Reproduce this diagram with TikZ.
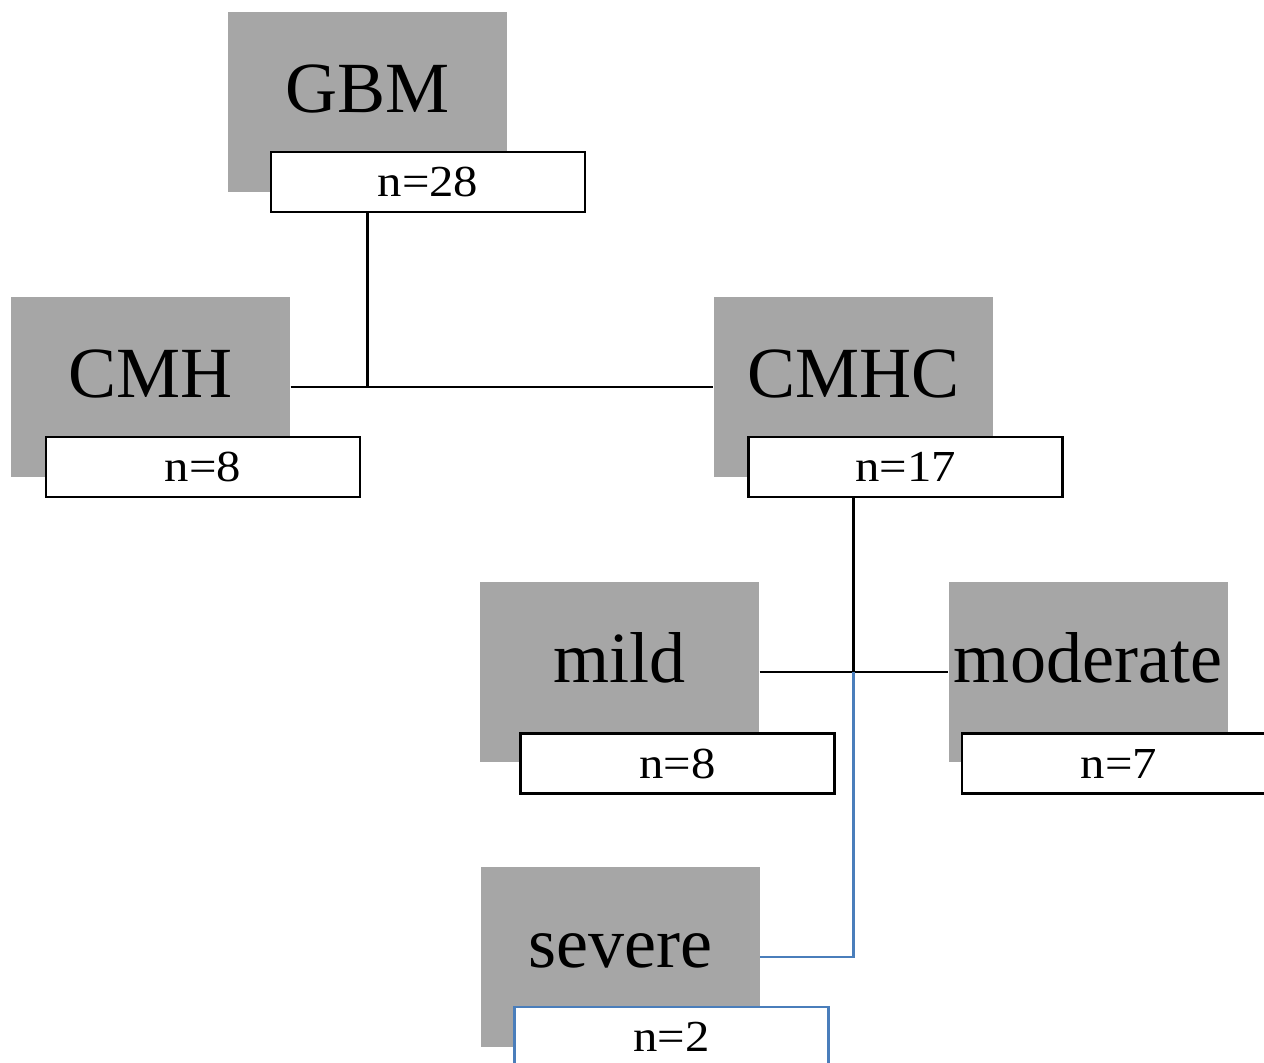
\documentclass[tikz,border=0pt]{standalone}
\usepackage{fontspec}
\setmainfont{Liberation Serif}
\newfontfamily\countfont{Liberation Serif}[FakeStretch=1.1]
\definecolor{boxgray}{HTML}{A6A6A6}
\definecolor{linkblue}{HTML}{4A7EBB}
\usepackage{tikz}
\usetikzlibrary{positioning, calc}
\tikzset{
	groupnode/.style={
			rectangle,
			draw=none,
			fill=boxgray,
			minimum width=2.79cm,
			minimum height=1.80cm,
			inner sep=0pt,
			text height=0.5cm,
			text depth=0.28cm,
			font=\fontsize{20.5}{24}\selectfont
		},
	countnode/.style={
			rectangle,
			draw=black,
			line width=0.65pt,
			fill=white,
			minimum width=3.14cm,
			minimum height=0.60cm,
			inner sep=0pt,
			text height=0.4cm,
			text depth=0.1cm,
			font=\countfont\fontsize{12.6}{14}\selectfont
		},
	countnodeblue/.style={
			countnode,
			draw=linkblue
		},
	link/.style={
			line width=0.6pt,
			draw=black
		}
}

\begin{document}
\begin{tikzpicture}
\useasboundingbox (0,0) rectangle (12.64,-10.63);

\node[groupnode] (n1) at (3.675,-1.02)  { GBM };
\node[groupnode] (n2) at (1.505,-3.87)  { CMH };
\node[groupnode] (n3) at (8.535,-3.87)  { CMHC };
\node[groupnode] (n4) at (6.195,-6.72)  { mild };
\node[groupnode] (n5) at (10.88,-6.72)  { moderate };
\node[groupnode] (n6) at (6.20,-9.57)  { severe };

\node[countnode] (c1) at (4.28,-1.82)  { n=28 };
\node[countnode] (c2) at (2.03,-4.67)  { n=8 };
\node[countnode] (c3) at (9.055,-4.67)  { n=17 };
\node[countnode] (c4) at (6.775,-7.635)  { n=8 };
\node[countnode] (c5) at (11.19,-7.635)  { n=7 };
\node[countnodeblue] (c6) at (6.715,-10.37)  { n=2 };

\draw[link] (c1.south -| n1) -- (n1 |- n2);
\draw[link] (n2.east) -- (n3.west);

\draw[link] (c3.south -| n3) -- (n3 |- n4);
\draw[link] (n4.east) -- (n5.west);

\draw[link, linkblue] (n6.east) -| (n3 |- n4);
\end{tikzpicture}
\end{document}
